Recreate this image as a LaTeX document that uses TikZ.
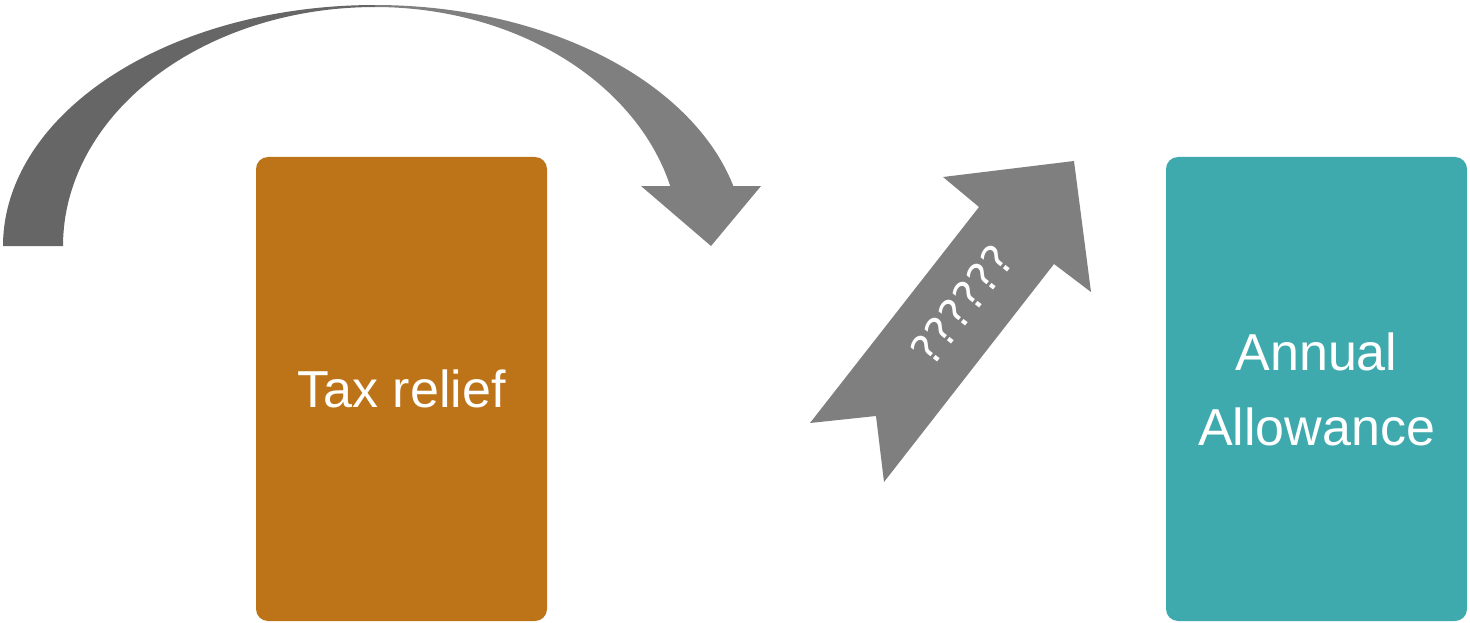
\documentclass[tikz,border=0pt]{standalone}
\usepackage{fontspec}
\setmainfont{Liberation Sans}
\newfontfamily\qfont{DejaVu Sans}
\definecolor{taxc}{RGB}{189,116,24}
\definecolor{tealc}{RGB}{62,170,173}
\definecolor{darkg}{RGB}{102,102,102}
\definecolor{midg}{RGB}{127,127,127}
\begin{document}
\begin{tikzpicture}[x=1pt,y=-1pt,
  box/.style={rounded corners=12pt, inner sep=0pt, text=white, align=center,
    minimum height=464pt},
  bigtext/.style={font=\fontsize{52}{75}\selectfont}]
\useasboundingbox (0,0) rectangle (1470,623);
% boxes
\node[box, fill=taxc, minimum width=291pt, bigtext] (tax) at (401.5,389) {Tax relief};
\node[box, fill=tealc, minimum width=301pt, bigtext] (aa) at (1316.5,389) {Annual\\Allowance};
% curved arrow, left dark part
\fill[darkg] plot[domain=180:90, samples=80] ({375+372*cos(\x)},{246-241*sin(\x)})
  -- plot[domain=90:180, samples=80] ({375+312*cos(\x)},{246-239*sin(\x)}) -- cycle;
% curved arrow, right part with head
\fill[midg] plot[domain=90:14.4, samples=80] ({375+370*cos(\x)},{246-241*sin(\x)})
  -- (761,186) -- (711,246) -- (641,186)
  -- plot[domain=14.5:90, samples=80] ({375+305*cos(\x)},{246-239*sin(\x)}) -- cycle;
% up arrow
\fill[midg] (810,423) -- (979,207) -- (943,177) -- (1074,161) -- (1091,292)
  -- (1054,264) -- (884,482) -- (876,416) -- cycle;
\node[text=white, rotate=52, inner sep=0pt, font=\qfont\fontsize{43}{43}\selectfont] (q) at (962,305) {??????};
\end{tikzpicture}
\end{document}
